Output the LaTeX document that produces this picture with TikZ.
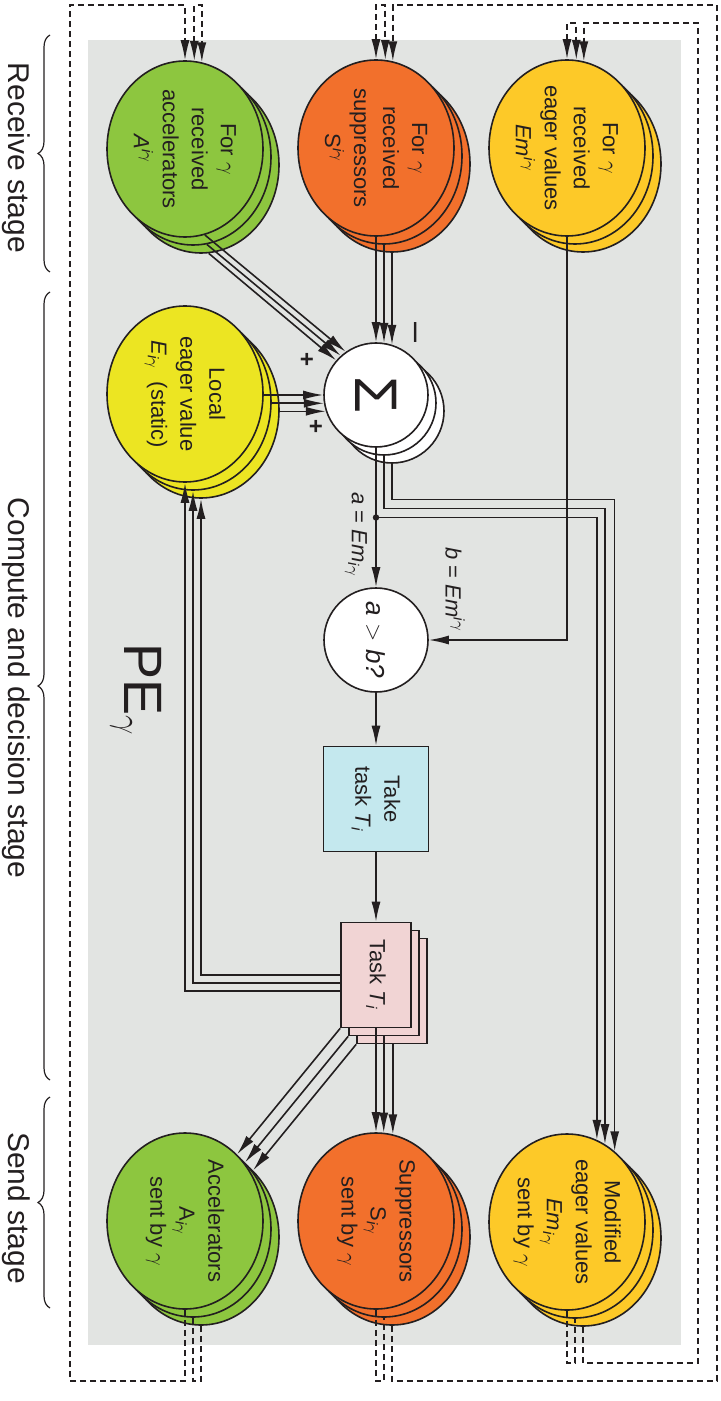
\documentclass[tikz,border=0pt]{standalone}
\usepackage{fontspec}
\setmainfont{Liberation Sans}
\usetikzlibrary{shapes.geometric,arrows.meta,calc,decorations.pathreplacing}

\definecolor{ink}{RGB}{35,31,32}
\definecolor{panel}{RGB}{226,228,226}
\definecolor{accgreen}{RGB}{141,198,63}
\definecolor{supor}{RGB}{242,112,44}
\definecolor{eagergold}{RGB}{253,201,40}
\definecolor{localyel}{RGB}{236,229,34}
\definecolor{takecyan}{RGB}{196,232,238}
\definecolor{taskpink}{RGB}{241,212,212}

\newcommand{\upig}[1]{#1\textsuperscript{\textit{i}$\gamma$}}
\newcommand{\dnig}[1]{#1\textsubscript{\textit{i}$\gamma$}}

\tikzset{
  >={Latex[length=10pt,width=4.5pt]},
  blob/.style={ellipse,draw=ink,line width=0.8pt,minimum width=78pt,minimum height=88pt,inner sep=0pt,fill=#1},
  disc/.style={circle,draw=ink,line width=0.8pt,minimum size=52pt,inner sep=0pt,fill=white},
  card/.style={rectangle,draw=ink,line width=0.8pt,minimum width=35pt,minimum height=52.5pt,inner sep=0pt,fill=taskpink},
  lbl/.style={rotate=-90,align=center,text=ink,font=\fontsize{11}{14.5}\selectfont},
  flow/.style={draw=ink,line width=0.8pt,->},
  dashline/.style={draw=ink,line width=0.8pt,dash pattern=on 3pt off 2pt},
  link/.style={dashline,->},
  stage/.style={rotate=-90,text=ink,font=\fontsize{15}{15}\selectfont},
  brc/.style={draw=ink,line width=0.6pt,decorate,decoration={brace,amplitude=6pt}},
}

\begin{document}
\begin{tikzpicture}[x=0.5pt,y=-0.5pt]
\useasboundingbox (0,0) rectangle (720,1401);
\fill[panel] (88,40) rectangle (681,1345);

% stacked shapes, back to front
\foreach \k in {2,1,0}{
  \node[blob=accgreen]  (ra\k) at ($(185,149)+(8*\k,8*\k)$) {};
  \node[blob=supor]     (sr\k) at ($(376,148)+(8*\k,8*\k)$) {};
  \node[blob=eagergold] (er\k) at ($(567,148)+(8*\k,8*\k)$) {};
  \node[blob=localyel]  (lo\k) at ($(185,394)+(8*\k,8*\k)$) {};
  \node[disc]           (sg\k) at ($(376,395)+(8*\k,8*\k)$) {};
  \node[card]           (tt\k) at ($(376,975)+(8*\k,8*\k)$) {};
  \node[blob=accgreen]  (sa\k) at ($(185,1221)+(8*\k,8*\k)$) {};
  \node[blob=supor]     (ss\k) at ($(376,1221)+(8*\k,8*\k)$) {};
  \node[blob=eagergold] (sm\k) at ($(567,1222)+(8*\k,8*\k)$) {};
}
\node[disc] (ab) at (376,640) {};
\node[card,fill=takecyan,minimum width=52.5pt] (tk) at (376,799) {};

% receive -> sum
\draw[flow] (ra0.-77) -- (sg0.125);
\draw[flow] (ra1.-81) -- (sg0.132);
\draw[flow] (ra2.-85) -- (sg0.139);
\foreach \k/\a in {0/90,1/81,2/72}
  \draw[flow] (sr\k.south) -- (sr\k.south |- sg0.\a);
\foreach \k/\a in {0/180,1/189,2/198}
  \draw[flow] (sg0.\a -| lo\k.east) -- (sg0.\a);

% sum -> decision and modified values
\coordinate (jn) at ($(sg0.south)!0.5!(ab.north)$);
\draw[flow] (sg0.south) -- (ab.north);
\fill[ink] (jn) circle (1.6pt);
\draw[flow] (jn) -| (sm0.70);
\draw[flow] (sg1.south) |- ($(sm0.64 |- jn)+(0,-9)$) -- (sm0.64);
\draw[flow] (sg2.south) |- ($(sm0.56 |- jn)+(0,-18)$) -- (sm0.56);
\draw[flow] (er0.south) |- (ab.east);

\draw[flow] (ab.south) -- (tk.north);
\draw[flow] (tk.south) -- (tt0.north);

% task -> local, send
\foreach \k in {0,1,2}
  \draw[flow] ($(tt0.west)+(0,16-8*\k)$) -| (lo\k.south);
\foreach \k/\a in {0/90,1/85,2/79}
  \draw[flow] (ss0.\a |- tt\k.south) -- (ss0.\a);
\foreach \k in {0,1,2}
  \draw[flow] (tt\k.south west) -- (sa\k.52);

% dashed loops
\coordinate (top) at (0,5);
\coordinate (top2) at (0,23);
\coordinate (bot) at (0,1381);
\coordinate (bot2) at (0,1363);
\coordinate (lft) at (70,5);
\coordinate (rgt) at (717,5);
\coordinate (rgt2) at (698,23);

\draw[dashline,<->] (ra0.84) -- (ra0.84 |- top) -| (ra0.79);
\draw[dashline] (sa1.south) -- (sa1.south |- bot) -| (sa2.south);
\draw[link] (sa0.south) -- (sa0.south |- bot) -| (lft) -| (ra0.90);

\draw[dashline,<->] (sr0.90) -- (sr0.90 |- top) -| (sr0.84);
\draw[dashline] (ss0.south) -- (ss0.south |- bot) -| (ss1.south);
\draw[link] (ss2.south) -- (ss2.south |- bot) -| (rgt) -| (sr0.79);

\draw[dashline,<->] (er0.90) -- (er0.90 |- top2) -| (er0.84);
\draw[dashline] (sm0.south) -- (sm0.south |- bot2) -| (sm1.south);
\draw[link] (sm2.south) -- (sm2.south |- bot2) -| (rgt2) -| (er0.79);

% texts
\node[lbl] (ratext) at (ra0) {For $\gamma$\\received\\accelerators\\\upig{\textit{A}}};
\node[lbl] (srtext) at (sr0) {For $\gamma$\\received\\suppressors\\\upig{S}};
\node[lbl] (ertext) at (er0) {For $\gamma$\\received\\eager values\\\upig{\textit{Em}}};
\node[lbl] (lotext) at (lo0) {Local\\eager value\\\dnig{\textit{E}}\ \ (static)};
\node[rotate=-90,text=ink,font=\fontsize{30}{30}\selectfont] (sgtext) at (sg0) {Σ};
\node[lbl,font=\fontsize{13}{13}\selectfont] (abtext) at (ab) {\textit{a} $>$ \textit{b?}};
\node[lbl] (tktext) at (tk) {Take\\task \textit{T}\textsubscript{\textit{i}}};
\node[lbl] (tttext) at (tt0) {Task \textit{T}\textsubscript{\textit{i}}};
\node[lbl] (satext) at (sa0) {Accelerators\\\dnig{A}\\sent by $\gamma$};
\node[lbl] (sstext) at (ss0) {Suppressors\\\dnig{S}\\sent by $\gamma$};
\node[lbl] (smtext) at (sm0) {Modified\\eager values\\\dnig{\textit{Em}}\\sent by $\gamma$};

\node[lbl] (alab) at (356,535) {\textit{a} = \dnig{\textit{Em}}};
\node[lbl] (blab) at (455,590) {\textit{b} = \upig{\textit{Em}}};
\node[text=ink,font=\bfseries\fontsize{12}{12}\selectfont] (plusa) at (307,360) {+};
\node[text=ink,font=\bfseries\fontsize{12}{12}\selectfont] (plusb) at (316,427) {+};
\node[rotate=-90,text=ink,font=\fontsize{18}{18}\selectfont] (minus) at (412,333) {–};
\node[rotate=-90,text=ink,font=\fontsize{27}{27}\selectfont] (pe) at (136,690) {PE$_\gamma$};

% stages
\draw[brc] (50,272) -- (50,35);
\draw[brc] (50,1080) -- (50,292);
\draw[brc] (50,1308) -- (50,1097);
\node[stage] (recv) at (16,158) {Receive stage};
\node[stage] (comp) at (16,688) {Compute and decision stage};
\node[stage] (send) at (16,1208) {Send stage};
\end{tikzpicture}
\end{document}
